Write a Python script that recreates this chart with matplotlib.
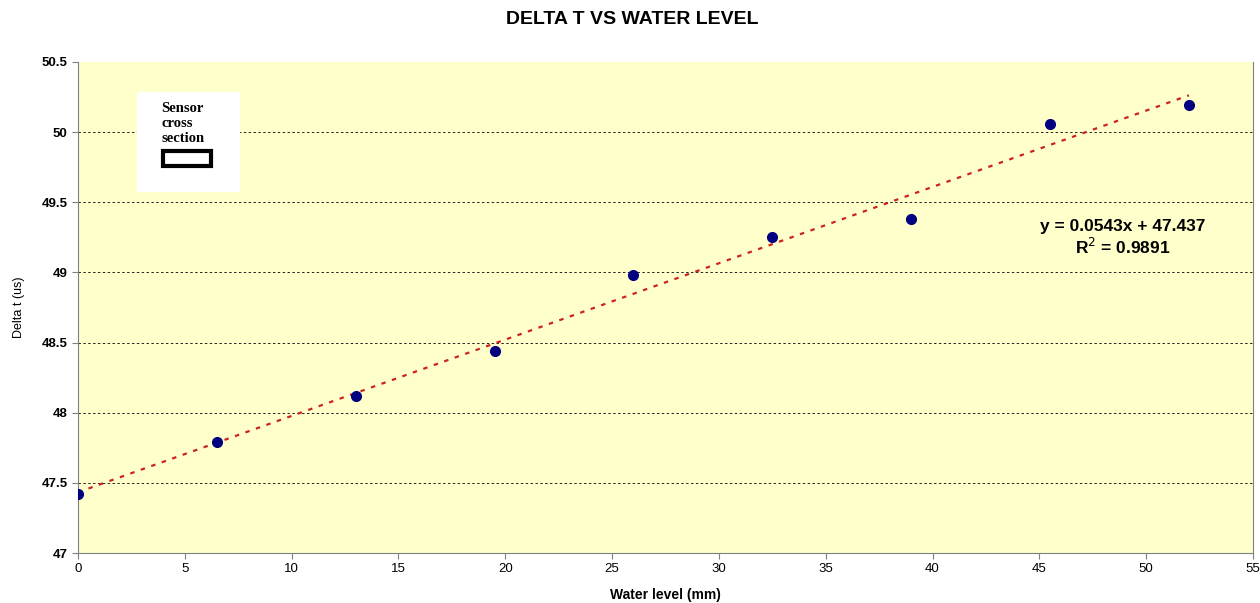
import matplotlib.pyplot as plt
from matplotlib.patches import Rectangle
import numpy as np

# data
water_level = [0, 6.5, 13, 19.5, 26, 32.5, 39, 45.5, 52]
delta_t = [47.42, 47.79, 48.12, 48.44, 48.98, 49.25, 49.38, 50.06, 50.19]
x_ticks = [0, 5, 10, 15, 20, 25, 30, 35, 40, 45, 50, 55]
y_ticks = [47, 47.5, 48, 48.5, 49, 49.5, 50, 50.5]
equation_text = "y = 0.0543x + 47.437"
r2_text = "R$^2$ = 0.9891"

plt.rcParams['font.family'] = ['Liberation Sans', 'DejaVu Sans']

fig = plt.figure(figsize=(12.6, 6.03), dpi=100)
ax = fig.add_axes([78 / 1260, 1 - 553 / 603, (1253 - 78) / 1260, (553 - 62) / 603])
ax.set_facecolor('#FFFFCC')

# linear trendline from the data
slope, intercept = np.polyfit(water_level, delta_t, 1)
xs = np.array([min(water_level), max(water_level)])
ax.plot(xs, slope * xs + intercept, linestyle=(0, (2, 3)), color='#CC2222',
        linewidth=1.6, zorder=2)
ax.plot(water_level, delta_t, 'o', color='#000080', markersize=7, zorder=3)

ax.set_xlim(0, 55)
ax.set_ylim(47, 50.5)
ax.set_xticks(x_ticks)
ax.set_yticks(y_ticks)
ax.set_yticklabels([f"{v:g}" for v in y_ticks], fontweight='bold', fontsize=9.5)
ax.set_xticklabels([str(v) for v in x_ticks], fontsize=9.5)
ax.yaxis.grid(True, linestyle=(0, (2.5, 2.5)), color='#222222', linewidth=0.7)
ax.yaxis.get_gridlines()[-1].set_visible(False)
ax.set_axisbelow(True)
ax.tick_params(direction='out', length=4, color='#808080')

for side in ['left', 'bottom', 'right']:
    ax.spines[side].set_color('#808080')
ax.spines['top'].set_visible(False)

ax.set_xlabel("Water level (mm)", fontsize=10, fontweight='bold', labelpad=9)
ax.set_ylabel("Delta t (us)", fontsize=9, labelpad=12)
fig.text(632 / 1260, 1 - 19 / 603, "DELTA T VS WATER LEVEL", ha='center', va='center',
         fontsize=14, fontweight='bold')

fig.text(1123 / 1260, 1 - 227 / 603, equation_text, ha='center',
         va='center', fontsize=12.5, fontweight='bold')
fig.text(1123 / 1260, 1 - 247 / 603, r2_text, ha='center',
         va='center', fontsize=12.5, fontweight='bold')

# sensor cross section inset
fig.patches.append(Rectangle((137 / 1260, 1 - 192 / 603), 103 / 1260, 100 / 603,
                             transform=fig.transFigure, facecolor='white',
                             edgecolor='none', zorder=5))
fig.text(161 / 1260, 1 - 102 / 603, "Sensor\ncross\nsection", ha='left', va='top',
         fontsize=10.5, fontweight='bold', family='Liberation Serif',
         linespacing=1.2, zorder=6)
fig.patches.append(Rectangle((163 / 1260, 1 - 166 / 603), 48 / 1260, 15 / 603,
                             transform=fig.transFigure, facecolor='white',
                             edgecolor='black', linewidth=3, zorder=6))

fig.savefig("out.png", dpi=100)
